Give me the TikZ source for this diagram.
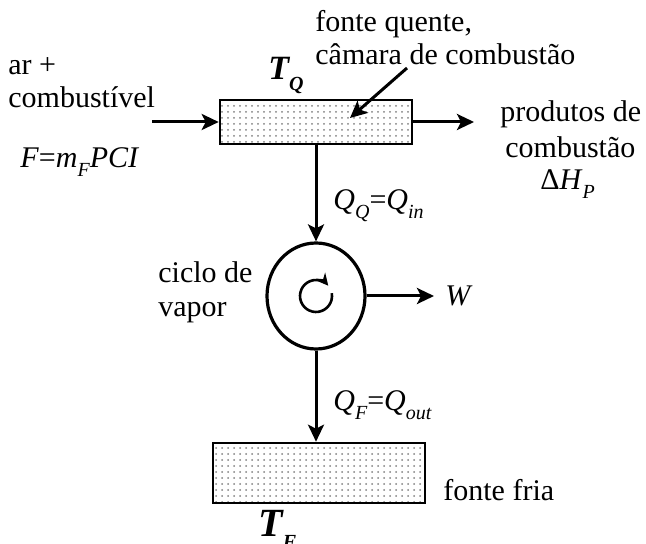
\documentclass[tikz,border=0pt]{standalone}
\usepackage{fontspec}
\setmainfont{Liberation Serif}
\usetikzlibrary{arrows.meta,patterns,shapes.geometric}
\newcommand{\lowsub}[1]{\raisebox{-0.3em}{\fontsize{10}{10}\selectfont\itshape #1}}
\begin{document}
\begin{tikzpicture}[x=0.5pt,y=-0.5pt, font=\fontsize{15}{18}\selectfont,
 arr/.style={-{Stealth[length=8.5pt,width=8pt,inset=2pt]}, line width=1.5pt},
 src/.style={draw, line width=1.3pt, pattern=dots, pattern color=gray, inner sep=0pt},
 lbl/.style={anchor=base west, inner sep=0pt}]
\useasboundingbox (0,0) rectangle (646,544);
\node[src, minimum width=96pt, minimum height=22pt] (hot) at (316,122) {};
\node[src, minimum width=106pt, minimum height=30pt] (cold) at (319,473) {};
\node[draw, ellipse, line width=1.6pt, minimum width=49pt, minimum height=53pt, inner sep=0pt] (cyc) at (316,296) {};
\draw[line width=1.3pt, -{Stealth[length=6pt,width=6pt]}] (cyc.center) ++(-10:16) arc[start angle=-10, end angle=320, radius=16];
\draw[arr] (hot.south) -- (cyc.north);
\draw[arr] (cyc.south) -- (cyc.south |- cold.north);
\coordinate (inS) at (152,122);
\draw[arr] (inS) -- (hot.west);
\coordinate (outE) at (474,122);
\draw[arr] (hot.east) -- (outE);
\coordinate (wE) at (434,296);
\draw[arr] (cyc.east) -- (wE);
\coordinate (pS) at (407,68);
\coordinate (pE) at (350,118);
\draw[arr] (pS) -- (pE);
\node[lbl] (t1) at (8,75) {ar +};
\node[lbl] (t2) at (8,108) {combustível};
\node[lbl] (t3) at (20,168) {\textit{F}=\textit{m}\lowsub{F}\textit{PCI}};
\node[lbl] (tq) at (268,80) {\fontsize{17}{17}\selectfont\bfseries\itshape T\lowsub{\bfseries Q}};
\node[lbl] (t4) at (315,32) {fonte quente,};
\node[lbl] (t5) at (315,65) {câmara de combustão};
\node[lbl] (t6) at (500,122) {produtos de};
\node[lbl] (t7) at (505,158) {combustão};
\node[lbl] (t8) at (540,190) {Δ\textit{H}\lowsub{P}};
\node[lbl] (t9) at (333,210) {\textit{Q}\lowsub{Q}=\textit{Q}\lowsub{in}};
\node[lbl] (t10) at (158,283) {ciclo de};
\node[lbl] (t11) at (158,317) {vapor};
\node[lbl] (t12) at (445,306) {\textit{W}};
\node[lbl] (t13) at (333,410) {\textit{Q}\lowsub{F}=\textit{Q}\lowsub{out}};
\node[lbl] (t14) at (443,500) {fonte fria};
\node[lbl] (tf) at (258,536) {\fontsize{20}{20}\selectfont\bfseries\itshape T\lowsub{\bfseries F}};
\end{tikzpicture}
\end{document}
